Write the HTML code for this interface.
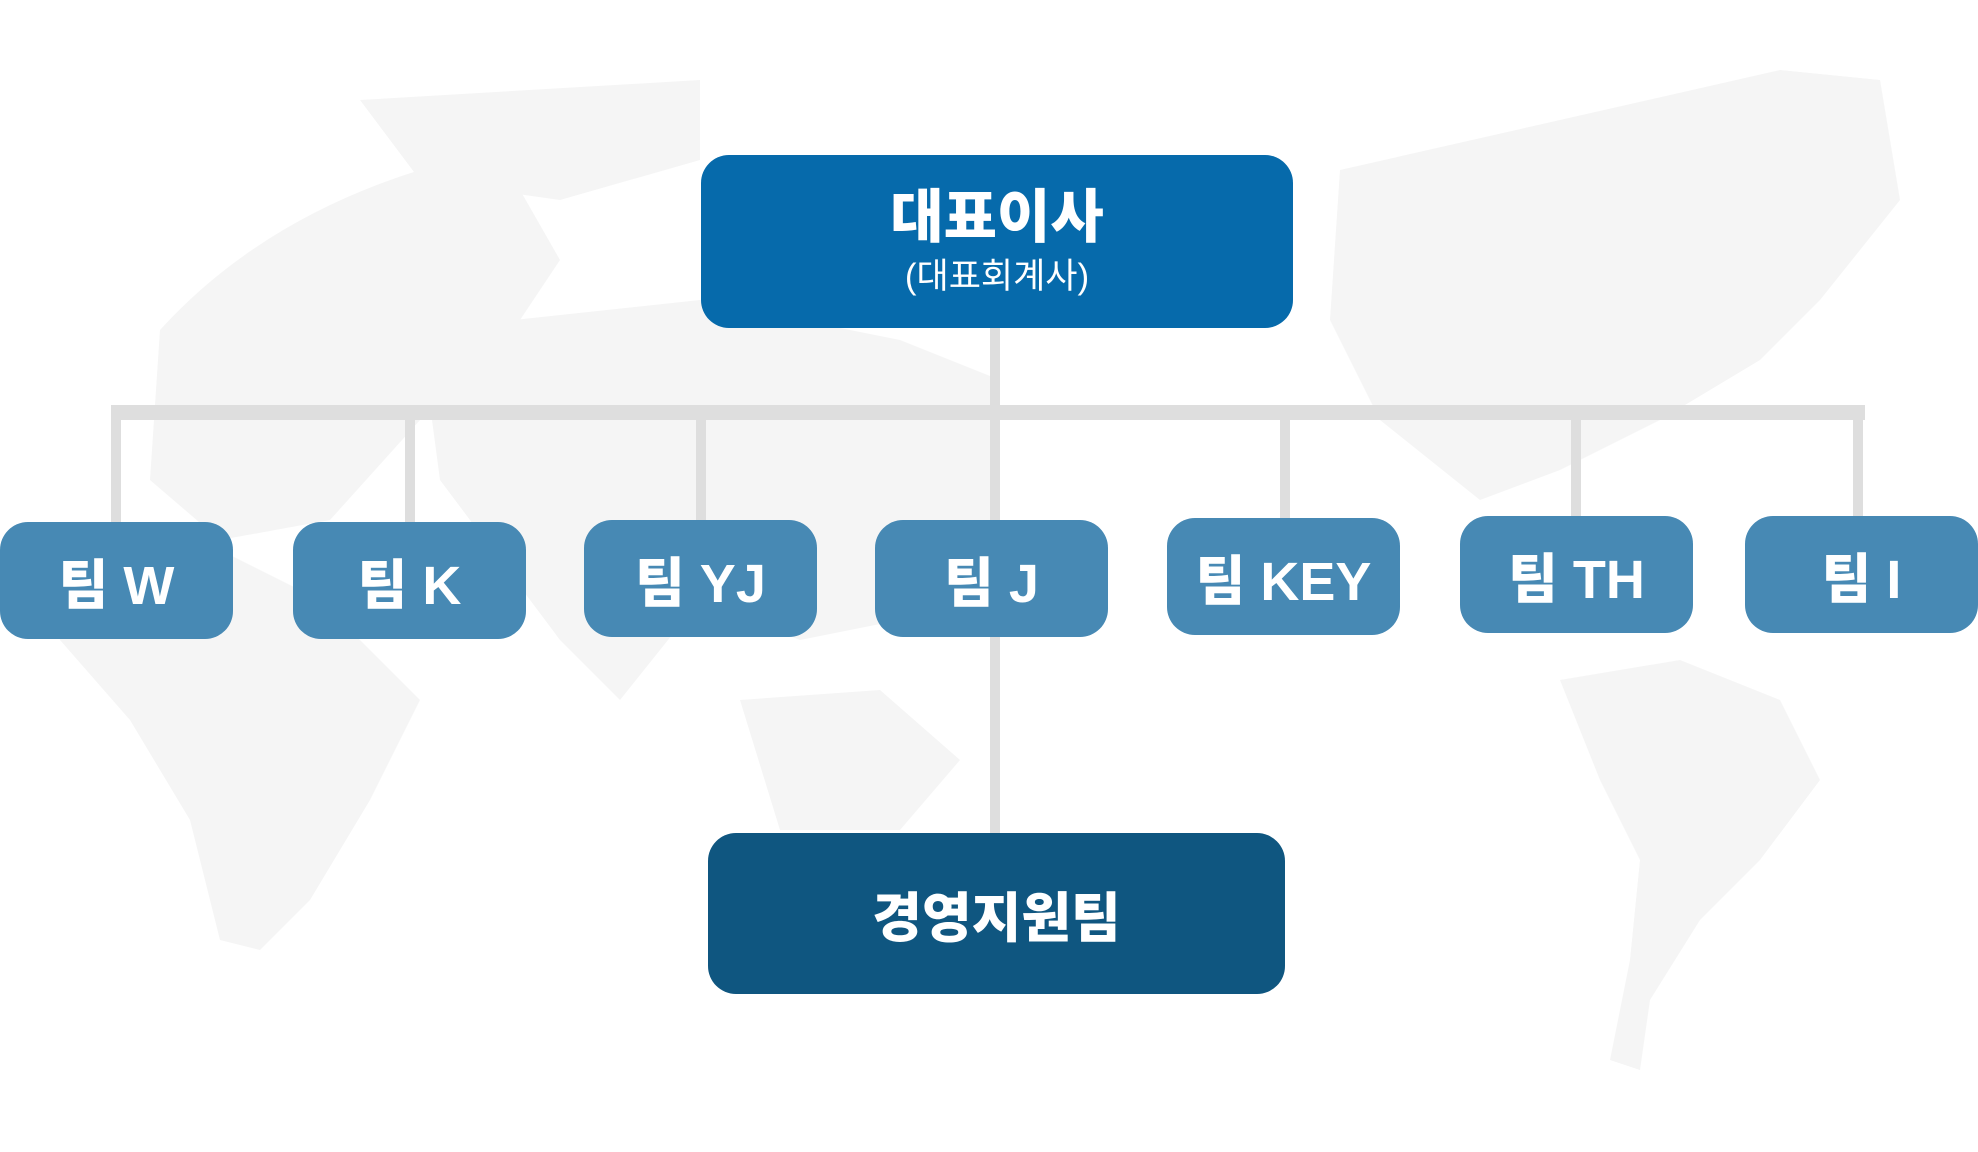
<!DOCTYPE html>
<html><head><meta charset="utf-8"><style>
body{margin:0;width:1978px;height:1152px;background:#fff;position:relative;overflow:hidden;font-family:"Liberation Sans","Noto Sans CJK KR",sans-serif}
.b{position:absolute;color:#fff;display:flex;flex-direction:column;align-items:center;justify-content:center;font-weight:900;border-radius:28px}
.t{background:#4789b4;font-size:54px;height:117px;width:233px}
.l{position:absolute;background:#dedede}
</style></head><body>
<svg width="1978" height="1152" style="position:absolute;left:0;top:0">
<g fill="#f5f5f5">
<path d="M160 330 Q260 220 420 170 L520 190 L560 260 L520 320 L420 420 L330 520 L220 540 L150 480 Z"/>
<path d="M360 100 L700 80 L700 160 L560 200 L420 180 Z"/>
<path d="M50 560 L200 540 L320 600 L420 700 L370 800 L310 900 L260 950 L220 940 L190 820 L130 720 L60 640 Z"/>
<path d="M420 330 L700 300 L900 340 L1000 380 L1000 560 L900 620 L800 640 L700 600 L620 700 L560 640 L500 560 L440 480 Z"/>
<path d="M740 700 L880 690 L960 760 L900 830 L780 830 Z"/>
<path d="M1340 170 L1560 120 L1780 70 L1880 80 L1900 200 L1820 300 L1760 360 L1660 420 L1560 470 L1480 500 L1380 420 L1330 320 Z"/>
<path d="M1560 680 L1680 660 L1780 700 L1820 780 L1760 860 L1700 920 L1650 1000 L1640 1070 L1610 1060 L1630 960 L1640 860 L1600 780 Z"/>
</g></svg>
<div class="l" style="left:990px;top:328px;width:10px;height:505px"></div>
<div class="l" style="left:111px;top:405px;width:1754px;height:15px"></div>
<div class="l" style="left:111px;top:405px;width:10px;height:120px"></div>
<div class="l" style="left:405px;top:405px;width:10px;height:120px"></div>
<div class="l" style="left:696px;top:405px;width:10px;height:120px"></div>
<div class="l" style="left:1280px;top:405px;width:10px;height:120px"></div>
<div class="l" style="left:1571px;top:405px;width:10px;height:120px"></div>
<div class="l" style="left:1853px;top:405px;width:10px;height:120px"></div>
<div class="b" style="left:701px;top:155px;width:592px;height:173px;background:#066aab;font-size:58px;line-height:1">대표이사<span style="font-size:35px;font-weight:normal;margin-top:12px">(대표회계사)</span></div>
<div class="b t" style="left:0;top:522px">팀 W</div>
<div class="b t" style="left:293px;top:522px">팀 K</div>
<div class="b t" style="left:584px;top:520px">팀 YJ</div>
<div class="b t" style="left:875px;top:520px">팀 J</div>
<div class="b t" style="left:1167px;top:518px">팀 KEY</div>
<div class="b t" style="left:1460px;top:516px">팀 TH</div>
<div class="b t" style="left:1745px;top:516px">팀 I</div>
<div class="b" style="left:708px;top:833px;width:577px;height:161px;background:#0f5680;font-size:54px">경영지원팀</div>
</body></html>
